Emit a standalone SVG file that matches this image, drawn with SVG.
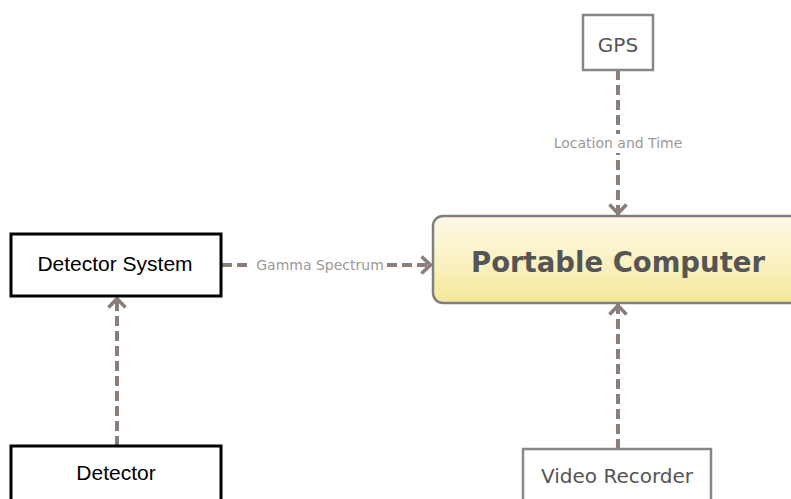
<svg xmlns="http://www.w3.org/2000/svg" width="791" height="499" viewBox="0 0 791 499">
  <defs>
    <linearGradient id="pcGrad" x1="0" y1="0" x2="0" y2="1">
      <stop offset="0" stop-color="#fdf9e6"/>
      <stop offset="0.5" stop-color="#faf2c4"/>
      <stop offset="1" stop-color="#f4e79a"/>
    </linearGradient>
    <marker id="arrow" markerUnits="userSpaceOnUse" markerWidth="24" markerHeight="24" viewBox="-14 -12 16 24" refX="0" refY="0" orient="auto">
      <path d="M -10.5 -8.5 L -1.5 0 L -10.5 8.5" fill="none" stroke="#8b7d77" stroke-width="3.6" stroke-linejoin="miter"/>
    </marker>
  </defs>
  <style>
    .conn { fill: none; stroke: #8b7d77; stroke-width: 4; stroke-dasharray: 10 5; }
    .lbl { font-family: "DejaVu Sans", sans-serif; font-size: 14px; fill: #9c9896; text-anchor: middle; }
    .lblbg { fill: #ffffff; }
    .blackbox { fill: #ffffff; stroke: #000000; stroke-width: 3; }
    .graybox { fill: #ffffff; stroke: #878787; stroke-width: 2.5; }
    .blacktxt { font-family: "Liberation Sans", Arial, sans-serif; font-size: 21px; fill: #000000; text-anchor: middle; }
    .graytxt { font-family: "DejaVu Sans", sans-serif; font-size: 20px; fill: #555555; text-anchor: middle; }
  </style>
  <rect width="791" height="499" fill="#ffffff"/>

  <g id="connectors">
    <line class="conn" x1="117" y1="446" x2="117" y2="297" marker-end="url(#arrow)"/>
    <line class="conn" x1="222" y1="265" x2="432" y2="265" marker-end="url(#arrow)"/>
    <line class="conn" x1="618" y1="70" x2="618" y2="215" marker-end="url(#arrow)"/>
    <line class="conn" x1="618" y1="449" x2="618" y2="304" marker-end="url(#arrow)"/>
    <rect class="lblbg" x="252" y="255" width="134" height="20"/>
    <text class="lbl" x="320" y="270">Gamma Spectrum</text>
    <rect class="lblbg" x="551" y="134" width="136" height="19"/>
    <text class="lbl" x="618" y="148">Location and Time</text>
  </g>

  <g id="portable-computer">
    <rect x="433" y="216" width="370" height="87" rx="10" ry="10" fill="url(#pcGrad)" stroke="#7f7f7f" stroke-width="2.5"/>
    <text x="618" y="272" font-family="DejaVu Sans, sans-serif" font-size="27.5" font-weight="bold" fill="#555555" text-anchor="middle">Portable Computer</text>
  </g>

  <g id="detector-system">
    <rect class="blackbox" x="11" y="234" width="210" height="62"/>
    <text class="blacktxt" x="115" y="271">Detector System</text>
  </g>

  <g id="detector">
    <rect class="blackbox" x="11" y="446" width="210" height="70"/>
    <text class="blacktxt" x="116" y="480">Detector</text>
  </g>

  <g id="gps">
    <rect class="graybox" x="583" y="15" width="70" height="55"/>
    <text class="graytxt" x="618" y="52">GPS</text>
  </g>

  <g id="video-recorder">
    <rect class="graybox" x="523" y="449" width="188" height="70"/>
    <text class="graytxt" x="617" y="483">Video Recorder</text>
  </g>
</svg>
